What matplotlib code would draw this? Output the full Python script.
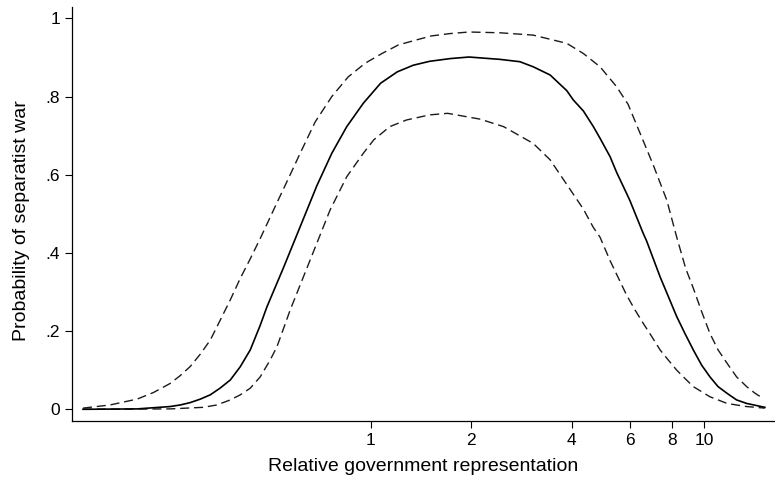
import matplotlib
matplotlib.use("Agg")
import matplotlib.pyplot as plt
from matplotlib.ticker import FixedLocator, NullLocator

plt.rcParams['font.family'] = ['Liberation Sans', 'DejaVu Sans']

# Relative government representation (x) and predicted probability (y)
solid_x = [0.137, 0.199, 0.25, 0.268, 0.287, 0.308, 0.33, 0.353, 0.379, 0.406, 0.435,
           0.466, 0.488, 0.547, 0.614, 0.689, 0.764, 0.847, 0.95, 1.07, 1.2, 1.34, 1.5,
           1.73, 1.97, 2.44, 2.8, 3.07, 3.45, 3.87, 4.05, 4.34, 4.65, 4.87, 5.22, 5.46,
           5.85, 5.99, 6.56, 6.72, 7.37, 8.27, 8.75, 9.27, 9.82, 10.4, 11.0, 11.7, 12.5,
           13.4, 15.2]
solid_y = [0.000, 0.001, 0.007, 0.011, 0.017, 0.026, 0.037, 0.054, 0.075, 0.109, 0.152,
           0.215, 0.262, 0.362, 0.467, 0.572, 0.655, 0.723, 0.783, 0.834, 0.863, 0.880,
           0.890, 0.897, 0.901, 0.895, 0.889, 0.876, 0.855, 0.815, 0.791, 0.763, 0.723,
           0.693, 0.646, 0.606, 0.552, 0.533, 0.450, 0.430, 0.339, 0.237, 0.194, 0.152,
           0.113, 0.083, 0.058, 0.041, 0.024, 0.015, 0.005]

upper_x = [0.137, 0.165, 0.199, 0.223, 0.25, 0.268, 0.287, 0.308, 0.33, 0.353, 0.379,
           0.406, 0.435, 0.466, 0.511, 0.573, 0.614, 0.681, 0.764, 0.855, 0.961, 1.08,
           1.21, 1.36, 1.52, 1.73, 1.97, 2.44, 3.07, 3.87, 4.34, 4.87, 5.46, 5.91, 6.42,
           7.03, 7.72, 8.27, 8.8, 9.27, 9.82, 10.4, 11.0, 11.7, 12.5, 13.4, 14.2, 15.0]
upper_y = [0.003, 0.011, 0.026, 0.043, 0.066, 0.086, 0.109, 0.141, 0.177, 0.227, 0.280,
           0.335, 0.385, 0.437, 0.510, 0.600, 0.655, 0.735, 0.800, 0.850, 0.885, 0.910,
           0.932, 0.944, 0.955, 0.961, 0.965, 0.963, 0.957, 0.936, 0.910, 0.876, 0.825,
           0.780, 0.706, 0.625, 0.535, 0.440, 0.360, 0.310, 0.250, 0.194, 0.152, 0.118,
           0.083, 0.058, 0.041, 0.028]

lower_x = [0.137, 0.25, 0.314, 0.345, 0.379, 0.406, 0.435, 0.466, 0.499, 0.523, 0.573,
           0.628, 0.689, 0.755, 0.847, 0.95, 1.02, 1.14, 1.28, 1.5, 1.7, 2.13, 2.5, 3.07,
           3.45, 3.87, 4.34, 4.65, 4.87, 5.22, 5.85, 6.2, 6.56, 6.96, 7.37, 7.8, 8.27,
           8.75, 9.27, 9.82, 10.4, 11.0, 11.7, 12.5, 13.4, 15.2]
lower_y = [0.000, 0.001, 0.005, 0.011, 0.024, 0.037, 0.054, 0.083, 0.126, 0.160, 0.254,
           0.339, 0.425, 0.510, 0.595, 0.655, 0.689, 0.723, 0.740, 0.753, 0.757, 0.742,
           0.723, 0.680, 0.638, 0.575, 0.512, 0.465, 0.440, 0.380, 0.292, 0.254, 0.220,
           0.186, 0.152, 0.126, 0.100, 0.079, 0.058, 0.045, 0.032, 0.024, 0.015, 0.011,
           0.007, 0.003]

x_ticks = [1, 2, 4, 6, 8, 10]
x_ticklabels = ["1", "2", "4", "6", "8", "10"]
y_ticks = [0, 0.2, 0.4, 0.6, 0.8, 1.0]
y_ticklabels = ["0", ".2", ".4", ".6", ".8", "1"]

fig = plt.figure(figsize=(7.75, 4.78), dpi=100)
ax = fig.add_axes([0.0929, 0.1192, 0.9071, 0.8662])

dash = (0, (6.5, 3.5))
ax.plot(upper_x, upper_y, color='#1a1a1a', lw=1.0, linestyle=dash)
ax.plot(lower_x, lower_y, color='#1a1a1a', lw=1.0, linestyle=dash)
ax.plot(solid_x, solid_y, color='black', lw=1.2)

ax.set_xscale('log')
ax.set_xlim(0.127, 16.3)
ax.set_ylim(-0.030, 1.029)

ax.xaxis.set_major_locator(FixedLocator(x_ticks))
ax.xaxis.set_minor_locator(NullLocator())
ax.set_xticklabels(x_ticklabels)
ax.set_yticks(y_ticks)
ax.set_yticklabels(y_ticklabels)

for s in ['top', 'right']:
    ax.spines[s].set_visible(False)
for s in ['left', 'bottom']:
    ax.spines[s].set_linewidth(0.9)

ax.tick_params(axis='both', direction='out', length=5, width=0.8, labelsize=12.5)
ax.tick_params(axis='y', pad=3.6)
ax.tick_params(axis='x', pad=3.6)

ax.set_xlabel("Relative government representation", fontsize=14, labelpad=7)
ax.set_ylabel("Probability of separatist war", fontsize=14, labelpad=11)
ax.yaxis.label.set_y(0.483)

fig.savefig("out.png", dpi=100)
